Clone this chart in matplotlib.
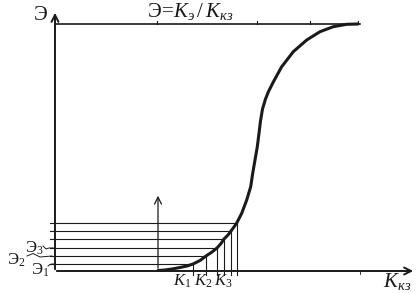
import matplotlib
matplotlib.use("Agg")
import matplotlib.pyplot as plt

plt.rcParams['mathtext.fontset'] = 'custom'
plt.rcParams['mathtext.rm'] = 'Liberation Serif'
plt.rcParams['mathtext.it'] = 'Liberation Serif:italic'

# S-curve (pixel coordinates: x right, y down)
curve_x = [158, 165, 172, 180, 187, 193, 200, 206, 212, 217, 221, 224, 228, 231, 234, 237,
           241.7, 246.7, 250.7, 252.7, 255, 257.3, 259.0, 260.5, 262.5, 265.5, 268.5, 273.3,
           281.7, 293.3, 306.7, 320, 333.3, 346.7, 358]
curve_y = [270.5, 270, 269, 267.5, 266, 264, 260.5, 256, 252, 248, 243.5, 239, 235, 231, 227, 222.5,
           213.3, 200, 186.7, 173.3, 160, 146.7, 133.3, 121, 109, 99, 91.5, 82,
           66.7, 51.7, 40, 31.7, 26.7, 24.3, 24]

# intersection points of the level lines with the curve
level_x = [193, 206, 217, 224, 231, 237]
level_y = [264, 256, 248, 239, 231, 223]

k_labels = [r'$K_1$', r'$K_2$', r'$K_3$']
k_label_x = [182.5, 203.5, 223]
e_labels = [r'$\mathrm{Э}_1$', r'$\mathrm{Э}_2$', r'$\mathrm{Э}_3$']

top_ticks_x = [157, 257, 310, 358]

ink = '#1a1a1a'
fig = plt.figure(figsize=(4.2, 2.93), dpi=100)
ax = fig.add_axes([0, 0, 1, 1])
ax.set_xlim(0, 420)
ax.set_ylim(293, 0)
ax.axis('off')

x0, y0 = 55, 271
# axes with arrows
ax.annotate('', xy=(x0, 10), xytext=(x0, y0 + 1),
            arrowprops=dict(arrowstyle='->,head_length=0.5,head_width=0.25', lw=1.4, color=ink))
ax.annotate('', xy=(416, y0), xytext=(x0 - 1, y0),
            arrowprops=dict(arrowstyle='->,head_length=0.5,head_width=0.25', lw=1.4, color=ink))
ax.annotate('', xy=(158, 193), xytext=(158, y0),
            arrowprops=dict(arrowstyle='->,head_length=0.5,head_width=0.25', lw=0.9, color=ink))

# top asymptote line
ax.plot([x0, 360], [24, 24], color=ink, lw=1.2)
for tx in top_ticks_x:
    ax.plot([tx, tx], [24, 21], color=ink, lw=0.8)
ax.plot([360, 360], [y0, y0 + 3], color=ink, lw=0.6)

# level lines
for lx, ly in zip(level_x, level_y):
    ax.plot([50, lx], [ly, ly], color=ink, lw=0.8)
    ax.plot([lx, lx], [ly, y0 + 4], color=ink, lw=0.8)

# curve
ax.plot(curve_x, curve_y, color=ink, lw=2.2, solid_capstyle='round', solid_joinstyle='round')

# texts
ax.text(41, 15, 'Э', fontsize=15, family='Liberation Serif', ha='center', va='center', color=ink)
ax.text(190, 12, r'$\mathrm{Э}\!=\!K_{э}\,/\,K_{кз}$', fontsize=15, ha='center', va='center', color=ink)
ax.text(397, 282, r'$K_{кз}$', fontsize=15, ha='center', va='center', color=ink)
for lab, kx in zip(k_labels, k_label_x):
    ax.text(kx, 281, lab, fontsize=12, ha='center', va='center', color=ink)

ax.text(40, 270, e_labels[0], fontsize=12, ha='center', va='center', color=ink)
ax.text(16, 260, e_labels[1], fontsize=12, ha='center', va='center', color=ink)
ax.text(34, 248, e_labels[2], fontsize=12, ha='center', va='center', color=ink)

# small connecting curls from labels to the lines
curl_x = [[48, 50, 52, 54], [27, 33, 40, 46, 52], [43, 46, 49, 54]]
curl_y = [[266, 264.5, 264, 264], [256, 253.5, 257, 256.5, 256], [246, 249, 248, 248]]
for cx, cy in zip(curl_x, curl_y):
    ax.plot(cx, cy, color=ink, lw=0.7)

fig.savefig('out.png', dpi=100, facecolor='white')
